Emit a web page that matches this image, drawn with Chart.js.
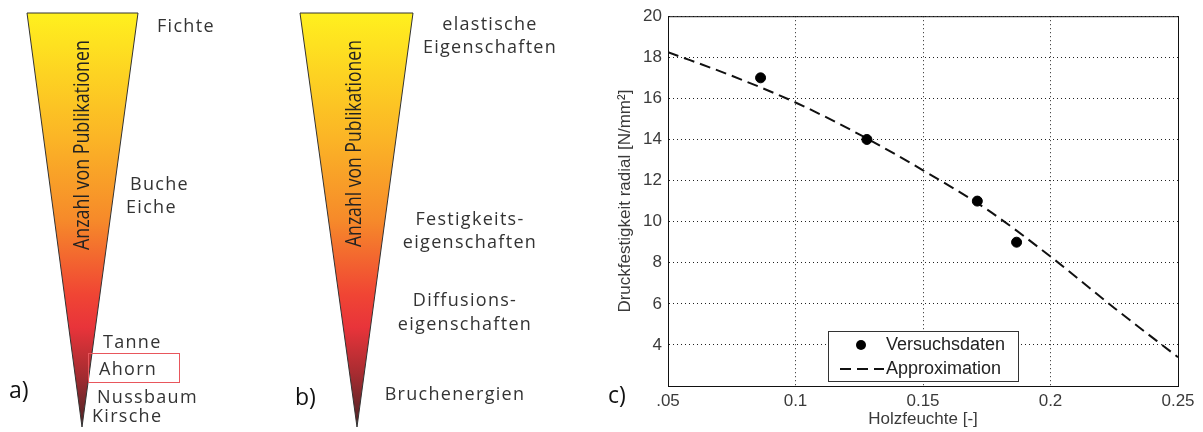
<!doctype html>
<html lang="de">
  <head>
    <meta charset="utf-8">
    <title>Holzfeuchte und Druckfestigkeit</title>
    <style>
      * {
        margin: 0;
        padding: 0;
      }
      body {
        width: 1203px;
        height: 432px;
        background: #fff;
        position: relative;
        overflow: hidden;
      }
      .sketch {
        position: absolute;
        left: 0;
        top: 0;
        z-index: 2;
        pointer-events: none;
      }
      .sketch text {
        font-family: "Open Sans", sans-serif;
        fill: #333;
        font-size: 18px;
        letter-spacing: 1.3px;
      }
      .sketch .panel {
        fill: #111;
        font-size: 23px;
        letter-spacing: 0;
      }
      .sketch .vert {
        font-size: 22px;
        fill: #222;
        letter-spacing: 0;
      }
      .chartBox {
        position: absolute;
        left: 600px;
        top: 0;
        width: 603px;
        height: 432px;
        z-index: 1;
      }
    </style>
  </head>
  <body>
    <!-- panels a) and b): schematic wedges, not data -->
    <svg class="sketch" width="1203" height="432" viewBox="0 0 1203 432">
      <defs>
        <linearGradient id="wedge" x1="0" y1="13" x2="0" y2="427" gradientUnits="userSpaceOnUse">
          <stop offset="0" stop-color="#fff01e"/>
          <stop offset="0.3" stop-color="#fbb526"/>
          <stop offset="0.5" stop-color="#f68a2a"/>
          <stop offset="0.68" stop-color="#f04534"/>
          <stop offset="0.76" stop-color="#e8343a"/>
          <stop offset="0.87" stop-color="#a82c31"/>
          <stop offset="1" stop-color="#4a2325"/>
        </linearGradient>
      </defs>

      <polygon points="27,13 138,13 82,427" fill="url(#wedge)" stroke="#333" stroke-width="1"/>
      <text class="vert" transform="translate(89,250) rotate(-90)" textLength="210" lengthAdjust="spacingAndGlyphs">Anzahl von Publikationen</text>
      <text x="157" y="32">Fichte</text>
      <text x="130" y="190">Buche</text>
      <text x="126" y="213">Eiche</text>
      <text x="103" y="348">Tanne</text>
      <rect x="88.5" y="353.5" width="91" height="29" fill="none" stroke="#e8565c" stroke-width="1"/>
      <text x="99" y="375">Ahorn</text>
      <text x="97" y="403">Nussbaum</text>
      <text x="92" y="422">Kirsche</text>
      <text class="panel" x="9" y="398">a)</text>

      <polygon points="300,13 413,13 357,427" fill="url(#wedge)" stroke="#333" stroke-width="1"/>
      <text class="vert" transform="translate(361,247) rotate(-90)" textLength="207" lengthAdjust="spacingAndGlyphs">Anzahl von Publikationen</text>
      <text x="490" y="30" text-anchor="middle">elastische</text>
      <text x="490" y="53" text-anchor="middle">Eigenschaften</text>
      <text x="470" y="225" text-anchor="middle">Festigkeits-</text>
      <text x="470" y="248" text-anchor="middle">eigenschaften</text>
      <text x="465" y="306" text-anchor="middle">Diffusions-</text>
      <text x="465" y="330" text-anchor="middle">eigenschaften</text>
      <text x="455" y="400" text-anchor="middle">Bruchenergien</text>
      <text class="panel" x="295" y="405">b)</text>

      <text class="panel" x="608" y="403">c)</text>
    </svg>

    <div class="chartBox">
      <canvas id="myChart" width="603" height="432"></canvas>
    </div>

    <script src="https://cdn.jsdelivr.net/npm/chart.js/dist/chart.umd.min.js"></script>
    <script>
    // data
    const measuredMoisture = [0.0863, 0.128, 0.1713, 0.1867];
    const measuredStrength = [17.0, 14.0, 11.0, 9.0];

    const fitMoisture = [0.05, 0.075, 0.1, 0.125, 0.15, 0.175, 0.2, 0.225, 0.25];
    const fitStrength = [18.25, 17.1, 15.8, 14.25, 12.5, 10.6, 8.3, 5.8, 3.4];

    const xTickLabels = ['.05', '0.1', '0.15', '0.2', '0.25'];
    const yTickLabels = ['', '4', '6', '8', '10', '12', '14', '16', '18', '20'];

    const seriesNames = ['Versuchsdaten', 'Approximation'];

    const axisFont = { family: "'Liberation Sans', Arial, sans-serif", size: 17 };
    const titleFont = { family: "'Liberation Sans', Arial, sans-serif", size: 17 };
    const axisColor = '#3a3a3a';

    // legend box inside the plot, like the matlab one
    const boxLegend = {
      id: 'boxLegend',
      afterDraw(chart) {
        const { ctx } = chart;
        const x0 = Math.round(chart.scales.x.getPixelForValue(0.1127));
        const y0 = Math.round(chart.scales.y.getPixelForValue(4.7));
        const w = 190, h = 50;
        ctx.save();
        ctx.fillStyle = '#fff';
        ctx.fillRect(x0, y0, w, h);
        ctx.strokeStyle = '#333';
        ctx.lineWidth = 1;
        ctx.strokeRect(x0 + 0.5, y0 + 0.5, w, h);

        ctx.font = "18px 'Liberation Sans', Arial, sans-serif";
        ctx.textBaseline = 'middle';

        const dots = chart.data.datasets[0];
        ctx.beginPath();
        ctx.arc(x0 + 33, y0 + 14, dots.pointRadius, 0, Math.PI * 2);
        ctx.fillStyle = dots.backgroundColor;
        ctx.fill();
        ctx.fillStyle = '#222';
        ctx.fillText(dots.label, x0 + 58, y0 + 14);

        const fit = chart.data.datasets[1];
        ctx.beginPath();
        ctx.setLineDash(fit.borderDash);
        ctx.lineWidth = fit.borderWidth;
        ctx.strokeStyle = fit.borderColor;
        ctx.moveTo(x0 + 12, y0 + 38);
        ctx.lineTo(x0 + 56, y0 + 38);
        ctx.stroke();
        ctx.setLineDash([]);
        ctx.fillText(fit.label, x0 + 58, y0 + 38);
        ctx.restore();
      }
    };

    // closed axes box
    const axesBox = {
      id: 'axesBox',
      afterDatasetsDraw(chart) {
        const { ctx, chartArea: a } = chart;
        ctx.save();
        ctx.strokeStyle = '#111';
        ctx.lineWidth = 1;
        ctx.strokeRect(a.left + 0.5, a.top + 0.5, a.right - a.left, a.bottom - a.top);
        ctx.restore();
      }
    };

    const data = {
      datasets: [
        {
          label: seriesNames[0],
          data: measuredMoisture.map((m, i) => ({ x: m, y: measuredStrength[i] })),
          pointRadius: 5,
          pointHoverRadius: 5,
          backgroundColor: '#000',
          borderColor: '#000',
          showLine: false
        },
        {
          label: seriesNames[1],
          data: fitMoisture.map((m, i) => ({ x: m, y: fitStrength[i] })),
          showLine: true,
          borderColor: '#111',
          borderWidth: 2,
          borderDash: [11, 6],
          pointRadius: 0,
          cubicInterpolationMode: 'monotone',
          fill: false
        }
      ]
    };

    const config = {
      type: 'scatter',
      data,
      options: {
        responsive: false,
        animation: false,
        devicePixelRatio: 1,
        layout: {
          padding: { left: 0, right: 25, top: 13, bottom: 0 }
        },
        plugins: {
          legend: { display: false },
          tooltip: { enabled: false }
        },
        scales: {
          x: {
            type: 'linear',
            min: 0.05,
            max: 0.25,
            afterFit: (scale) => { scale.height = 46; },
            ticks: {
              stepSize: 0.05,
              padding: 5,
              font: axisFont,
              color: axisColor,
              maxRotation: 0,
              callback: (value, index) => xTickLabels[index]
            },
            grid: { color: '#222', lineWidth: 1, drawTicks: false },
            border: { display: true, color: '#111', dash: [1, 3] },
            title: {
              display: true,
              text: 'Holzfeuchte [-]',
              font: titleFont,
              color: axisColor,
              padding: { top: 0, bottom: 2 }
            }
          },
          y: {
            min: 2,
            max: 20,
            afterFit: (scale) => { scale.width = 68; },
            ticks: {
              stepSize: 2,
              padding: 6,
              font: axisFont,
              color: axisColor,
              callback: (value, index) => yTickLabels[index]
            },
            grid: { color: '#222', lineWidth: 1, drawTicks: false },
            border: { display: true, color: '#111', dash: [1, 3] },
            title: {
              display: true,
              text: 'Druckfestigkeit radial [N/mm²]',
              font: titleFont,
              color: axisColor,
              padding: { top: 15, bottom: 0 }
            }
          }
        }
      },
      plugins: [axesBox, boxLegend]
    };

    const myChart = new Chart(document.getElementById('myChart'), config);
    </script>
  </body>
</html>
